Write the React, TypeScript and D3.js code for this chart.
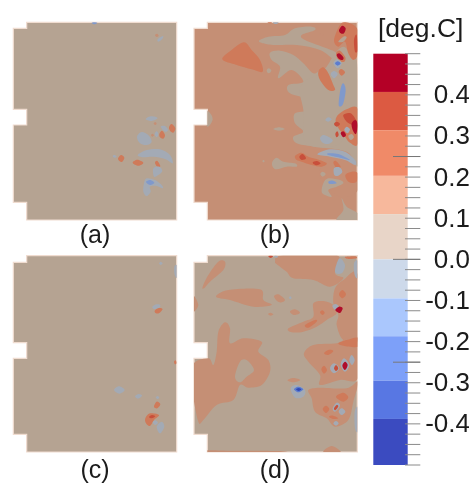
import React from "react";
import * as d3 from "d3";

type Pt = [number, number];
type Blob = [number, Pt[]];

// contour colour per level, -4 (coldest) .. 4 (hottest), as it looks on the maps
const levelColors: Record<string, string> = {
  "-4": "#2f49b8",
  "-3": "#5b7ccf",
  "-2": "#8099cb",
  "-1": "#a3aab5",
  "0": "#b5a392",
  "1": "#c58f75",
  "2": "#cf7a5a",
  "3": "#c8503a",
  "4": "#b00f2b",
};

// colour bar
const bandEdges = [0.5, 0.407, 0.314, 0.203, 0.11, 0, -0.095, -0.187, -0.295, -0.388, -0.5];
const bandColors = ["#b40426", "#dc5a43", "#f08a68", "#f7b89c", "#e8d5c8", "#cdd9ea", "#aac7fd", "#7da0f9", "#5977e3", "#3b4cc0"];
const barLabels = [0.4, 0.3, 0.2, 0.1, 0, -0.1, -0.2, -0.3, -0.4];
const majorTicks = [0.25, 0, -0.25];

// mesh rows: top, left top, notch top, notch bottom, left bottom, bottom
const rowsTop = [37, 55, 298, 345, 577, 630];
const rowsBottom = [32, 52, 293, 340, 568, 621];

const blobsA: Blob[] = [
  [-2, [[275, 38], [283, 36], [292, 38], [283, 43]]],
  [-1, [[472, 90], [480, 82], [490, 78], [486, 88], [476, 95]]],
  [1, [[465, 75], [471, 71], [476, 77], [470, 81]]],
  [-1, [[437, 328], [452, 319], [473, 324], [455, 333]]],
  [-1, [[482, 350], [495, 348], [504, 360], [495, 365]]],
  [2, [[507, 352], [515, 342], [526, 355], [520, 368], [510, 362]]],
  [2, [[478, 372], [486, 362], [495, 375], [490, 386], [480, 382]]],
  [-1, [[464, 372], [470, 364], [475, 372], [470, 382]]],
  [1, [[453, 375], [458, 371], [462, 376], [457, 380]]],
  [1, [[461, 340], [466, 336], [470, 341], [465, 345]]],
  [-1, [[411, 380], [425, 366], [445, 375], [455, 395], [440, 405], [420, 400]]],
  [-1, [[413, 435], [440, 420], [480, 418], [510, 435], [518, 460], [495, 447], [460, 440], [430, 442]]],
  [2, [[354, 447], [363, 435], [373, 443], [365, 456]]],
  [2, [[398, 458], [412, 449], [430, 458], [415, 467]]],
  [-1, [[338, 438], [344, 435], [350, 440], [343, 443]]],
  [2, [[465, 458], [472, 453], [481, 468], [472, 470]]],
  [-1, [[460, 475], [478, 470], [487, 483], [475, 495], [462, 500]]],
  [-1, [[432, 520], [440, 505], [465, 510], [485, 525], [488, 535], [470, 528], [450, 530], [452, 545], [440, 558], [430, 545]]],
  [-2, [[438, 516], [450, 510], [463, 518], [450, 525]]],
];

const blobsB: Blob[] = [
  [2, [[127, 148], [155, 120], [192, 97], [215, 120], [240, 150], [248, 185], [215, 178], [170, 165]]],
  [0, [[237, 92], [265, 80], [315, 75], [345, 55], [395, 50], [405, 60], [365, 75], [375, 90], [440, 115], [470, 130], [465, 150], [420, 120], [350, 105], [280, 105], [250, 100]]],
  [0, [[270, 128], [300, 122], [340, 135], [370, 160], [400, 190], [420, 180], [440, 170], [465, 130], [490, 110], [510, 130], [532, 165], [534, 400], [532, 470], [500, 425], [400, 410], [350, 400], [340, 380], [370, 365], [345, 340], [345, 310], [385, 300], [390, 270], [330, 250], [325, 225], [370, 215], [335, 180], [295, 205], [300, 170], [275, 150]]],
  [0, [[400, 200], [470, 200], [500, 300], [480, 400], [380, 400], [370, 300], [360, 235]]],
  [0, [[470, 632], [490, 600], [485, 565], [500, 590], [534, 610], [534, 632]]],
  [0, [[260, 182], [266, 175], [274, 182], [266, 190]]],
  [0, [[80, 305], [92, 312], [98, 328], [90, 345], [80, 347]]],
  [0, [[280, 357], [297, 352], [314, 357], [297, 362]]],
  [0, [[247, 453], [251, 450], [254, 454], [250, 457]]],
  [0, [[277, 455], [290, 443], [310, 455], [345, 460], [350, 470], [320, 470], [290, 478], [278, 470]]],
  [1, [[415, 70], [425, 71], [435, 78], [425, 76]]],
  [2, [[415, 185], [430, 172], [445, 190], [460, 225], [465, 240], [445, 240], [420, 210]]],
  [2, [[462, 90], [480, 45], [500, 37], [534, 60], [534, 130], [520, 150], [505, 130], [495, 95], [475, 110]]],
  [4, [[477, 60], [487, 47], [497, 55], [492, 70], [482, 70]]],
  [0, [[475, 95], [490, 80], [500, 82], [490, 95]]],
  [3, [[522, 90], [530, 75], [534, 120], [525, 125]]],
  [2, [[468, 130], [480, 122], [496, 142], [492, 156], [475, 150]]],
  [4, [[470, 135], [478, 130], [490, 142], [488, 150], [476, 146]]],
  [-1, [[460, 160], [472, 148], [485, 160], [473, 175]]],
  [-3, [[465, 160], [473, 154], [482, 160], [473, 167]]],
  [2, [[476, 185], [484, 177], [495, 187], [485, 197]]],
  [-1, [[452, 192], [462, 183], [473, 192], [462, 205]]],
  [-2, [[476, 280], [482, 235], [490, 220], [497, 240], [490, 280], [480, 290]]],
  [2, [[470, 320], [500, 298], [534, 298], [534, 400], [510, 398], [495, 380], [470, 345]]],
  [3, [[490, 315], [512, 310], [530, 335], [520, 345], [500, 335]]],
  [4, [[515, 340], [526, 330], [534, 345], [528, 372], [518, 360]]],
  [0, [[505, 378], [515, 372], [522, 382], [512, 390]]],
  [-1, [[493, 360], [500, 350], [510, 358], [503, 370]]],
  [4, [[482, 370], [490, 364], [498, 375], [490, 382]]],
  [3, [[462, 342], [470, 335], [480, 342], [470, 350]]],
  [-1, [[436, 330], [445, 322], [455, 328], [445, 335]]],
  [3, [[466, 372], [472, 364], [476, 375], [470, 382]]],
  [-1, [[420, 385], [432, 375], [458, 390], [445, 402], [428, 398]]],
  [1, [[432, 462], [480, 450], [520, 470], [534, 540], [480, 560], [420, 500]]],
  [-1, [[412, 433], [450, 418], [495, 425], [525, 450], [525, 465], [495, 450], [450, 440]]],
  [-2, [[445, 430], [475, 432], [510, 450], [480, 443], [445, 435]]],
  [2, [[345, 438], [365, 428], [385, 440], [410, 447], [440, 460], [425, 470], [395, 465], [365, 455], [350, 450]]],
  [3, [[358, 440], [368, 432], [378, 445], [365, 450]]],
  [3, [[398, 458], [410, 453], [422, 460], [410, 466]]],
  [2, [[460, 458], [468, 453], [482, 470], [470, 474]]],
  [2, [[496, 495], [515, 485], [534, 490], [528, 517], [505, 515]]],
  [-1, [[462, 475], [478, 472], [487, 485], [475, 497], [463, 495]]],
  [0, [[421, 492], [428, 485], [437, 492], [428, 500]]],
  [0, [[430, 520], [445, 505], [480, 510], [490, 520], [470, 530], [445, 540], [455, 560], [435, 555], [425, 545]]],
  [-2, [[445, 515], [460, 512], [470, 520], [450, 522]]],
  [-1, [[278, 38], [287, 35], [296, 38], [287, 42]]],
  [2, [[262, 36], [270, 35], [276, 38], [268, 40]]],
];

const blobsC: Blob[] = [
  [-1, [[477, 55], [482, 50], [488, 55], [482, 60]]],
  [-1, [[523, 65], [532, 62], [532, 98], [524, 90]]],
  [-1, [[457, 185], [470, 178], [481, 180], [476, 190], [462, 192]]],
  [2, [[464, 197], [476, 189], [488, 192], [478, 204], [468, 205]]],
  [-1, [[342, 435], [357, 424], [374, 435], [358, 446]]],
  [-1, [[405, 454], [416, 447], [426, 452], [414, 461]]],
  [-1, [[467, 457], [473, 453], [478, 458], [472, 462]]],
  [2, [[462, 485], [470, 470], [481, 478], [472, 490]]],
  [2, [[436, 520], [450, 505], [477, 510], [462, 525], [450, 543], [438, 535]]],
  [3, [[447, 516], [456, 510], [466, 514], [455, 520]]],
  [-1, [[470, 545], [485, 530], [493, 545], [480, 565]]],
  [-1, [[458, 532], [466, 526], [474, 533], [465, 540]]],
  [2, [[522, 350], [527, 346], [530, 354], [525, 358]]],
];

const blobsD: Blob[] = [
  [1, [[285, 50], [310, 30], [470, 30], [465, 85], [490, 100], [450, 125], [400, 105], [340, 100], [320, 80], [300, 65]]],
  [1, [[465, 130], [490, 105], [534, 90], [534, 285], [490, 285], [470, 240], [475, 210], [460, 175]]],
  [1, [[325, 250], [370, 230], [400, 215], [400, 175], [430, 168], [460, 180], [470, 205], [440, 225], [410, 245], [370, 260], [335, 262]]],
  [2, [[375, 240], [405, 225], [410, 230], [385, 248]]],
  [1, [[38, 360], [85, 340], [100, 360], [110, 320], [115, 260], [135, 232], [150, 250], [150, 295], [190, 280], [245, 290], [235, 320], [265, 345], [270, 380], [245, 420], [205, 428], [180, 420], [160, 465], [110, 480], [70, 525], [55, 530], [38, 440]]],
  [0, [[165, 395], [180, 350], [200, 345], [222, 375], [200, 395], [180, 412]]],
  [1, [[108, 155], [145, 135], [240, 133], [250, 165], [275, 180], [220, 185], [150, 165]]],
  [1, [[68, 125], [85, 90], [115, 50], [135, 50], [130, 75], [90, 110], [72, 130]]],
  [1, [[38, 150], [55, 180], [38, 200]]],
  [1, [[282, 155], [295, 148], [315, 165], [298, 172]]],
  [1, [[330, 200], [345, 193], [360, 203], [343, 210]]],
  [1, [[264, 207], [272, 203], [280, 208], [272, 212]]],
  [1, [[322, 406], [340, 399], [361, 405], [340, 412]]],
  [1, [[372, 325], [400, 300], [470, 295], [500, 280], [534, 280], [534, 400], [480, 405], [420, 420], [420, 390], [385, 350]]],
  [2, [[475, 295], [500, 285], [534, 278], [534, 305], [490, 302]]],
  [2, [[432, 325], [445, 315], [460, 318], [445, 330]]],
  [2, [[424, 373], [432, 362], [441, 375], [432, 386]]],
  [-1, [[450, 370], [462, 355], [478, 370], [462, 385]]],
  [3, [[462, 370], [468, 360], [475, 370], [468, 378]]],
  [-1, [[482, 360], [492, 340], [508, 360], [495, 380]]],
  [4, [[487, 362], [495, 350], [503, 360], [495, 375]]],
  [-1, [[508, 345], [515, 330], [524, 345], [516, 360]]],
  [2, [[477, 148], [487, 135], [498, 148], [487, 160]]],
  [-1, [[457, 183], [466, 177], [476, 184], [466, 195]]],
  [4, [[466, 195], [477, 185], [488, 190], [480, 204]]],
  [2, [[420, 202], [427, 196], [434, 203], [427, 210]]],
  [-1, [[332, 430], [350, 420], [375, 435], [370, 455], [345, 458]]],
  [-3, [[342, 433], [355, 425], [370, 433], [355, 442]]],
  [-4, [[348, 433], [356, 429], [364, 433], [356, 438]]],
  [-1, [[327, 158], [331, 154], [335, 159], [331, 162]]],
  [1, [[385, 435], [420, 428], [500, 430], [534, 410], [520, 470], [505, 525], [465, 545], [440, 520], [405, 500], [395, 460]]],
  [2, [[468, 455], [490, 443], [505, 457], [490, 470]]],
  [2, [[428, 492], [438, 482], [448, 492], [438, 504]]],
  [-1, [[458, 490], [470, 473], [480, 482], [465, 500]]],
  [3, [[462, 490], [470, 480], [475, 484], [466, 496]]],
  [-1, [[476, 500], [485, 490], [496, 500], [485, 510]]],
  [2, [[447, 515], [460, 512], [475, 520], [460, 522]]],
  [-1, [[460, 535], [468, 528], [476, 535], [468, 542]]],
  [-1, [[465, 80], [478, 40], [495, 60], [485, 85]]],
  [2, [[495, 36], [525, 34], [530, 40], [505, 42]]],
  [-1, [[522, 55], [534, 48], [534, 98], [524, 90]]],
  [-1, [[524, 500], [534, 488], [534, 558], [525, 550]]],
  [1, [[430, 622], [455, 603], [482, 622]]],
  [1, [[80, 616], [150, 617], [300, 618], [300, 624], [80, 624]]],
  [3, [[265, 34], [272, 30], [279, 34], [272, 39]]],
  [-1, [[282, 34], [288, 31], [294, 35], [288, 38]]],
];

const panels = [
  { label: "(a)", blobs: blobsA, base: 0, cols: [40, 80, 530], rows: rowsTop, originX: 0, originY: 10 },
  { label: "(b)", blobs: blobsB, base: 1, cols: [42, 82, 532], rows: rowsTop, originX: 180, originY: 10 },
  { label: "(c)", blobs: blobsC, base: 0, cols: [40, 80, 530], rows: rowsBottom, originX: 0, originY: 245 },
  { label: "(d)", blobs: blobsD, base: 0, cols: [42, 82, 532], rows: rowsBottom, originX: 180, originY: 245 },
];

const fontFamily = "'Liberation Sans', Arial, sans-serif";

function MapPanel({ panel, index }: { panel: (typeof panels)[number]; index: number }) {
  // the mesh units are 3 to a pixel
  const x = d3.scaleLinear().domain([0, 570]).range([panel.originX, panel.originX + 190]);
  const y = d3.scaleLinear().domain([0, 720]).range([panel.originY, panel.originY + 240]);
  const [c0, c1, c2] = panel.cols;
  const [r0, r1, r2, r3, r4, r5] = panel.rows;
  const outline: Pt[] = [
    [c1, r0], [c2, r0], [c2, r5], [c1, r5], [c1, r4], [c0, r4],
    [c0, r3], [c1, r3], [c1, r2], [c0, r2], [c0, r1], [c1, r1],
  ];
  const meshPath = d3.line<Pt>().x((d) => x(d[0])).y((d) => y(d[1]));
  const blobPath = d3.line<Pt>().x((d) => x(d[0])).y((d) => y(d[1])).curve(d3.curveCatmullRomClosed.alpha(0));
  const clipId = `mesh-${index}`;
  return (
    <g>
      <clipPath id={clipId}>
        <path d={meshPath(outline) + "Z"} />
      </clipPath>
      <path d={meshPath(outline) + "Z"} fill={levelColors[panel.base]} stroke="#f0dcd0" strokeWidth={1.2} />
      <g clipPath={`url(#${clipId})`}>
        {panel.blobs.map((b, i) => (
          <path key={i} d={blobPath(b[1]) ?? ""} fill={levelColors[b[0]]} />
        ))}
      </g>
    </g>
  );
}

export default function App() {
  const barY = d3.scaleLinear().domain([-0.5, 0.5]).range([465, 53.7]);
  const minor = d3.range(-20, 21).map((d) => d * 0.025);
  return (
    <svg width={469} height={483} style={{ position: "absolute", left: 0, top: 0, display: "block" }} fontFamily={fontFamily}>
      <defs>
        <filter id="soft" x="-5%" y="-5%" width="110%" height="110%">
          <feGaussianBlur stdDeviation={0.7} />
        </filter>
        <filter id="softText" x="-5%" y="-5%" width="110%" height="110%">
          <feGaussianBlur stdDeviation={0.35} />
        </filter>
      </defs>
      <g filter="url(#soft)">
        {panels.map((p, i) => (
          <MapPanel key={p.label} panel={p} index={i} />
        ))}
      </g>
      <g filter="url(#softText)" fill="#1a1a1a" fontSize={25}>
        {panels.map((p) => (
          <text key={p.label} x={p.originX + 95} y={p.originY + 233} textAnchor="middle">
            {p.label}
          </text>
        ))}
        <text x={378} y={37} fontSize={26.5}>[deg.C]</text>
        {barLabels.map((v) => (
          <text key={v} x={470} y={barY(v) + 8.5} textAnchor="end" fontSize={26}>
            {(v < 0 ? "-" : "") + Math.abs(v).toFixed(1)}
          </text>
        ))}
      </g>
      <g filter="url(#softText)">
        {bandColors.map((c, i) => (
          <rect key={c} x={373.3} width={34.4} y={barY(bandEdges[i])} height={barY(bandEdges[i + 1]) - barY(bandEdges[i])} fill={c} />
        ))}
        {minor.map((v) => (
          <line key={v} x1={405} x2={420.3} y1={barY(v)} y2={barY(v)} stroke="#8a8a8a" strokeWidth={1} />
        ))}
        {majorTicks.map((v) => (
          <line key={v} x1={393} x2={420.3} y1={barY(v)} y2={barY(v)} stroke="#777" strokeWidth={1} />
        ))}
      </g>
    </svg>
  );
}
